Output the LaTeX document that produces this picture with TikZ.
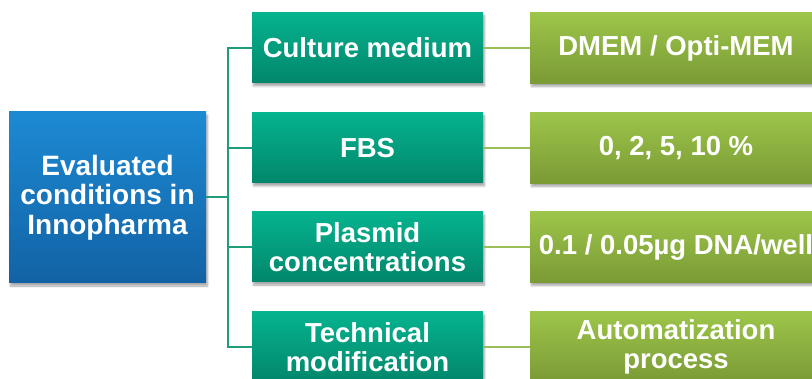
\documentclass[tikz,border=0pt]{standalone}
\usepackage{fontspec}
\setmainfont{Liberation Sans}
\usetikzlibrary{shadows.blur}
\definecolor{bluetop}{HTML}{1C8AD3}
\definecolor{bluebot}{HTML}{1262A5}
\definecolor{tealtop}{HTML}{05B38F}
\definecolor{tealbot}{HTML}{02866B}
\definecolor{olivetop}{HTML}{9DC54A}
\definecolor{olivebot}{HTML}{7A9A35}
\definecolor{trunkcol}{HTML}{1E9C7C}
\definecolor{olivecol}{HTML}{9BBF57}
\tikzset{
  boxbase/.style={rectangle, inner sep=0pt, align=center, text=white,
    font=\fontsize{27.5}{29}\selectfont\bfseries,
    blur shadow={shadow xshift=1.5pt, shadow yshift=-3pt, shadow blur steps=6, shadow opacity=35}},
  bluebox/.style={boxbase, minimum width=197pt, minimum height=171pt,
    top color=bluetop, bottom color=bluebot, font=\fontsize{28}{29.5}\selectfont\bfseries},
  tealbox/.style={boxbase, minimum width=231pt, minimum height=70pt,
    top color=tealtop, bottom color=tealbot},
  olivebox/.style={boxbase, minimum width=292pt, minimum height=71pt,
    top color=olivetop, bottom color=olivebot},
  trunk/.style={draw=trunkcol, line width=2pt},
  oline/.style={draw=olivecol, line width=1.6pt}
}
\begin{document}
\begin{tikzpicture}[x=1pt,y=-1pt]
\useasboundingbox (0,0) rectangle (812,379);
\clip (0,0) rectangle (812,379);
\node[bluebox] (root) at (107.5,197.5) {Evaluated\\conditions in\\Innopharma};
\node[tealbox] (g1) at (367.5,48) {Culture medium};
\node[tealbox] (g2) at (367.5,148) {FBS};
\node[tealbox] (g3) at (367.5,247) {Plasmid\\concentrations};
\node[tealbox] (g4) at (367.5,347) {Technical\\modification};
\node[olivebox] (o1) at (676,48) {DMEM / Opti-MEM};
\node[olivebox] (o2) at (676,148) {0, 2, 5, 10 \%};
\node[olivebox] (o3) at (676,247) {0.1 / 0.05µg DNA/well};
\node[olivebox] (o4) at (676,347) {Automatization\\process};
\coordinate (j) at (228,197.5);
\draw[trunk] (root.east) -- (j);
\draw[trunk] (g1.west) -- (g1.west -| j) -- (g4.west -| j) -- (g4.west);
\draw[trunk] (g2.west) -- (g2.west -| j);
\draw[trunk] (g3.west) -- (g3.west -| j);
\draw[oline] (g1.east) -- (o1.west);
\draw[oline] (g2.east) -- (o2.west);
\draw[oline] (g3.east) -- (o3.west);
\draw[oline] (g4.east) -- (o4.west);
\end{tikzpicture}
\end{document}
